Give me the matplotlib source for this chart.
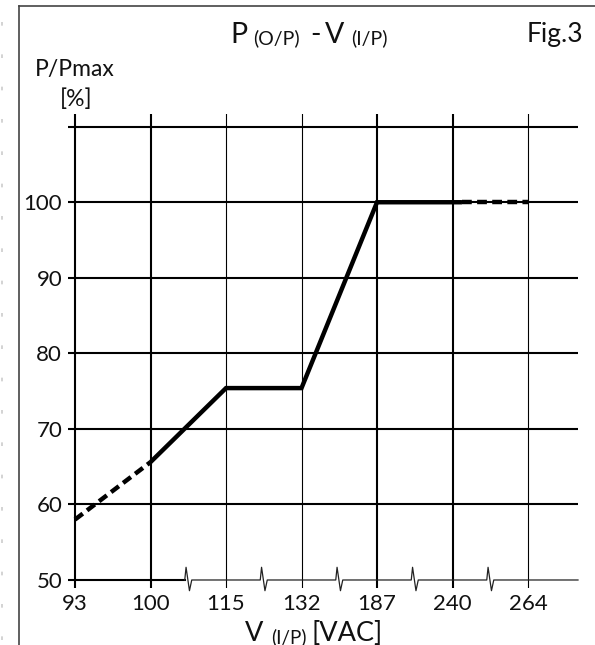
import matplotlib
matplotlib.use("Agg")
import matplotlib.pyplot as plt
import numpy as np
from matplotlib.lines import Line2D

plt.rcParams["font.family"] = ["Lato", "DejaVu Sans"]

# category ticks of the broken voltage axis
TICK_V = [93, 100, 115, 132, 187, 240, 264]
GRID_P = [60, 70, 80, 90, 100, 110]
LABEL_P = [50, 60, 70, 80, 90, 100]

# derating curve
LOW_V = [93, 100]
LOW_P = [58.0, 65.6]
MAIN_V = [100, 115, 132, 187, 243]
MAIN_P = [65.6, 75.4, 75.4, 100.0, 100.0]
HIGH_V = [243, 264]
HIGH_P = [100.0, 100.0]

# line widths of the vertical grid lines (the scan has them uneven)
VLINE_LW = [1.5, 1.5, 0.8, 0.8, 1.5, 1.5, 0.8]

W, H, DPI = 595, 645, 100

# every tick voltage sits one step apart; extrapolate outside the ends
_idx = np.arange(len(TICK_V), dtype=float)
_v_ext = np.r_[TICK_V[0] - 10 * (TICK_V[1] - TICK_V[0]), TICK_V,
               TICK_V[-1] + 10 * (TICK_V[-1] - TICK_V[-2])]
_i_ext = np.r_[-10.0, _idx, _idx[-1] + 10.0]


def fwd(v):
    return np.interp(v, _v_ext, _i_ext)


def inv(i):
    return np.interp(i, _i_ext, _v_ext)


def fx(px):
    return px / W


def fy(py):
    return 1 - py / H


fig = plt.figure(figsize=(W / DPI, H / DPI), dpi=DPI)
ax = fig.add_axes([fx(68), fy(588), fx(578) - fx(68), fy(114) - fy(588)])
ax.set_xscale("function", functions=(fwd, inv))
ax.set_xlim(inv(-0.0927), inv(6.662))
ax.set_ylim(48.94, 111.68)
for s in ax.spines.values():
    s.set_visible(False)

ax.set_xticks(TICK_V)
ax.set_xticklabels([str(v) for v in TICK_V])
ax.set_yticks(LABEL_P)
ax.set_yticklabels([str(p) for p in LABEL_P])
ax.tick_params(length=0, labelsize=16, labelcolor="#111111")
ax.tick_params(axis="y", pad=4.2)
ax.tick_params(axis="x", pad=4)
ax.minorticks_off()

# grid
for p in GRID_P:
    ax.axhline(p, color="black", lw=1.5, zorder=1)
for v, lw in zip(TICK_V, VLINE_LW):
    ax.axvline(v, color="black", lw=lw, zorder=1)

# 50 % base line with the axis-break zigzags between the ticks
to_disp = ax.transData.transform
to_data = ax.transData.inverted().transform
x_lo, x_hi = ax.get_xlim()
zig = [(-3.5, 0), (-2.2, 12.7), (1.2, -10.7), (3.5, 0)]
breaks = [inv(k + 0.5) for k in range(1, len(TICK_V) - 1)]
base_y = to_disp((x_lo, 50))[1]
pts = []
for b in breaks:
    cx = to_disp((b, 50))[0]
    pts += [(cx + dx, base_y + dy) for dx, dy in zig]
pts.append((to_disp((x_hi, 50))[0], base_y))
thin = to_data(np.array(pts))
ax.plot([x_lo, thin[0, 0]], [50, 50], color="black", lw=1.5, zorder=1)
ax.plot(thin[:, 0], thin[:, 1], color="#222222", lw=0.9, zorder=1, clip_on=False)

# curve
kw = dict(color="black", lw=3.2, zorder=3, clip_on=False,
          solid_joinstyle="miter", solid_capstyle="butt", dash_capstyle="butt")
ax.plot(MAIN_V, MAIN_P, **kw)
ax.plot(LOW_V, LOW_P, ls=(0, (2.2, 1.2)), **kw)
ax.plot(HIGH_V, HIGH_P, ls=(0, (2.2, 1.2)), **kw)


def draw_runs(runs, cx, base):
    """Mixed-size text laid out left to right, centred on cx (pixels)."""
    r = fig.canvas.get_renderer()
    arts, widths = [], []
    for txt, size, dy, gap in runs:
        t = fig.text(0, 0, txt, fontsize=size, va="baseline", ha="left", color="#111111")
        widths.append(t.get_window_extent(r).width)
        arts.append(t)
    total = sum(widths) + sum(run[3] for run in runs)
    x = cx - total / 2
    for t, w, run in zip(arts, widths, runs):
        x += run[3]
        t.set_position((fx(x), fy(base + run[2])))
        x += w


draw_runs([("P", 20.5, 0, 0), ("(O/P)", 14, 1.8, 6), ("-", 20.5, 0, 10),
           ("V", 20.5, 0, 5), ("(I/P)", 14, 1.8, 7)], 309, 42.7)
draw_runs([("V", 19.5, 0, 0), ("(I/P)", 13.5, 1.8, 8), ("[VAC]", 19.5, 0, 5)], 313.5, 641)

fig.text(fx(555), fy(41.7), "Fig.3", fontsize=19, ha="center", va="baseline", color="#111111")
fig.text(fx(35), fy(76), "P/Pmax", fontsize=16.5, ha="left", va="baseline", color="#111111")
fig.text(fx(76.5), fy(106), "[%]", fontsize=16.5, ha="center", va="baseline", color="#111111")

# page frame and the faint dotted edge on the far left
fig.add_artist(Line2D([fx(19), fx(19)], [fy(5.7), fy(H)], color="#444444", lw=1.2,
                      transform=fig.transFigure))
fig.add_artist(Line2D([fx(19), fx(W)], [fy(5.7), fy(5.7)], color="#444444", lw=1.2,
                      transform=fig.transFigure))
fig.add_artist(Line2D([fx(2), fx(2)], [fy(22), fy(H)], color="#cccccc", lw=1.2,
                      dashes=(2.2, 17.2), transform=fig.transFigure))

fig.savefig("out.png", dpi=DPI)
